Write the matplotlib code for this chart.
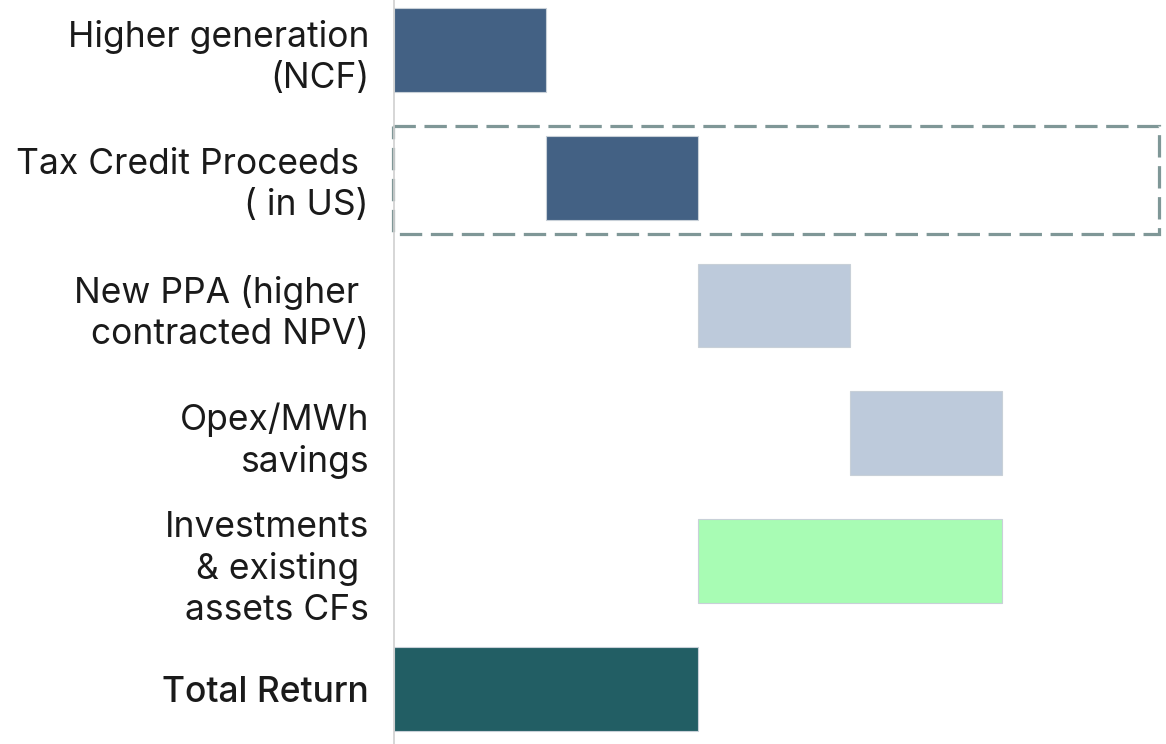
import matplotlib.pyplot as plt
from matplotlib.patches import Rectangle
import numpy as np

plt.rcParams['font.family'] = ['Inter', 'DejaVu Sans']

labels = ["Higher generation\n(NCF)", "Tax Credit Proceeds \n( in US)",
          "New PPA (higher \ncontracted NPV)", "Opex/MWh\nsavings",
          "Investments\n& existing \nassets CFs", "Total Return"]
steps = [1, 1, 1, 1, -2]
colors = ["#436184", "#436184", "#bdcadb", "#bdcadb", "#a8fcb4", "#225e64"]

# waterfall positions
ends = np.cumsum(steps)
starts = ends - np.array(steps)
lefts = list(np.minimum(starts, ends)) + [0]
widths = list(np.abs(steps)) + [ends[-1]]

fig = plt.figure(figsize=(11.66, 7.44), dpi=100)
ax = fig.add_axes([394 / 1166, 0, 1 - 394 / 1166, 1])

y = np.arange(len(labels))
ax.barh(y, widths, left=lefts, height=0.656, color=colors,
        edgecolor="#c8d0d8", linewidth=0.8)

# highlight box around tax credit row
ax.add_patch(Rectangle((-0.005, 0.594), 5.04, 0.85, fill=False,
                       edgecolor="#7f9797", linewidth=2.3,
                       linestyle=(0, (7, 2.7)), clip_on=False))

ax.set_xlim(0, 5.08)
ax.set_ylim(5.43, -0.39)
ax.set_yticks(y)
ax.set_yticklabels(labels, fontsize=25.5, color="#1a1a1a", linespacing=1.3)
ax.get_yticklabels()[-1].set_fontweight("medium")
ax.tick_params(axis="y", length=0, pad=18)
ax.set_xticks([])
for s in ["top", "right", "bottom"]:
    ax.spines[s].set_visible(False)
ax.spines["left"].set_color("#d0d0d0")
ax.spines["left"].set_linewidth(1.2)

fig.savefig("out.png", dpi=100)
